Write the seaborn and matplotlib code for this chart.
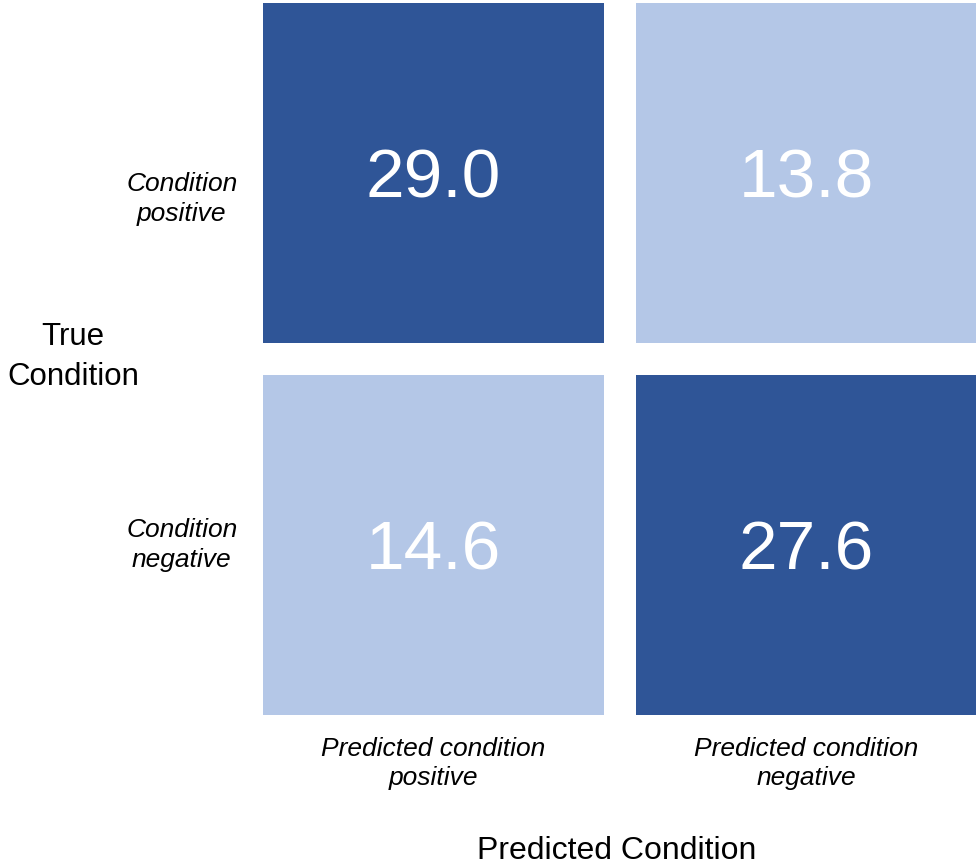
import numpy as np
import pandas as pd
import seaborn as sns
import matplotlib.pyplot as plt
from matplotlib.colors import ListedColormap
from matplotlib.transforms import ScaledTranslation

# Dados da matriz de confusão (%)
rotulos_verdadeiros = ["Condition\npositive", "Condition\nnegative"]
rotulos_previstos = ["Predicted condition\npositive", "Predicted condition\nnegative"]
valores = [[29.0, 13.8],
           [14.6, 27.6]]

cor_clara = "#B4C7E7"
cor_escura = "#2F5597"

plt.rcParams['font.family'] = ['Liberation Sans', 'DejaVu Sans']

df = pd.DataFrame(valores, index=rotulos_verdadeiros, columns=rotulos_previstos)

fig = plt.figure(figsize=(9.76, 8.67), dpi=100)
ax = fig.add_axes([0.2531, 0.1569, 0.7643, 0.8581])

sns.heatmap(df, ax=ax, cmap=ListedColormap([cor_clara, cor_escura]),
            vmin=13.8, vmax=29.0, cbar=False, annot=True, fmt=".1f",
            annot_kws={"color": "white", "fontsize": 50},
            linewidths=23, linecolor="white", square=False)

# números um pouco abaixo do centro, como no original
desloc = ScaledTranslation(0, -0.07, fig.dpi_scale_trans)
for t in ax.texts:
    t.set_transform(t.get_transform() + desloc)

ax.set_yticks([0.57, 1.5])
ax.set_yticklabels(rotulos_verdadeiros)
ax.tick_params(axis='both', length=0)
ax.tick_params(axis='x', pad=4)
ax.tick_params(axis='y', pad=7)
plt.setp(ax.get_xticklabels(), fontsize=19, style='italic', rotation=0,
         ha='center', multialignment='center', linespacing=1.3)
plt.setp(ax.get_yticklabels(), fontsize=19, style='italic', rotation=0,
         ha='right', va='center', multialignment='center', linespacing=1.3)

ax.set_ylabel("True\nCondition", fontsize=22.5, rotation=0, ha='center',
              va='center', multialignment='center', linespacing=1.45)
ax.yaxis.set_label_coords(-0.233, 0.503)
ax.set_xlabel("Predicted Condition", fontsize=23, va='center')
ax.xaxis.set_label_coords(0.496, -0.162)

fig.savefig("out.png", dpi=100)
